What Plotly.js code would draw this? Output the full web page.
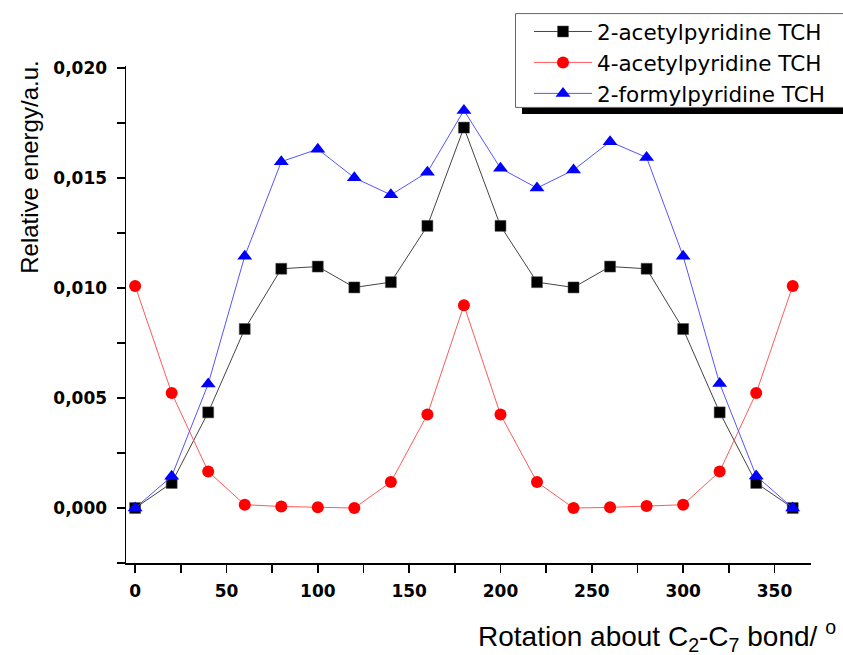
<!DOCTYPE html>
<html>
<head>
<meta charset="utf-8">
<script src="https://cdn.plot.ly/plotly-3.0.1.min.js"></script>
<style>html,body{margin:0;padding:0;background:#fff;}#chart{width:843px;height:655px;}</style>
</head>
<body>
<div id="chart"></div>
<script>
const angles = [0,20,40,60,80,100,120,140,160,180,200,220,240,260,280,300,320,340,360];
const acetyl2 = [0,0.00114,0.00435,0.00814,0.01088,0.01098,0.01003,0.01027,0.01283,0.0173,0.01283,0.01027,0.01003,0.01098,0.01088,0.00814,0.00435,0.00114,0];
const acetyl4 = [0.0101,0.00523,0.00166,0.00015,0.00007,0.00003,0.0000,0.00118,0.00425,0.00922,0.00425,0.00118,0.0000,0.00003,0.00009,0.00015,0.00166,0.00523,0.0101];
const formyl2 = [0,0.00144,0.00564,0.01145,0.01575,0.01632,0.01502,0.01424,0.01527,0.01808,0.01545,0.01455,0.01537,0.01666,0.01594,0.01145,0.00566,0.00146,0];
const seriesNames = ['2-acetylpyridine TCH','4-acetylpyridine TCH','2-formylpyridine TCH'];
const yTicks = [0,0.005,0.010,0.015,0.020];
const xTicks = [0,50,100,150,200,250,300,350];

const L = 126, R = 32, T = 65, B = 92, W = 843, H = 655;
const pw = W - L - R, ph = H - T - B;
const px = v => (v - L) / pw;
const py = v => (H - B - v) / ph;

const traces = [
  {x: angles, y: acetyl2, name: seriesNames[0], mode: 'lines+markers',
   line: {color: '#444', width: 1}, marker: {symbol: 'square', size: 11, color: '#000', line: {color: '#555', width: 0.5}}},
  {x: angles, y: acetyl4, name: seriesNames[1], mode: 'lines+markers',
   line: {color: '#ff5a5a', width: 1}, marker: {symbol: 'circle', size: 12, color: '#ff0000'}},
  {x: angles, y: formyl2, name: seriesNames[2], mode: 'lines+markers',
   line: {color: '#5555ff', width: 1}, marker: {symbol: 'triangle-up', size: 13, color: '#0000ff'}}
];

const fam = 'Liberation Sans, Arial, sans-serif';
const wide = 'DejaVu Sans, sans-serif';
const tickFont = {family: wide, size: 17, color: '#000', weight: 'bold'};
const layout = {
  width: W, height: H,
  margin: {l: L, r: R, t: T, b: B},
  paper_bgcolor: '#fff', plot_bgcolor: '#fff',
  separators: ',.',
  showlegend: true,
  xaxis: {
    range: [-5, 370], tickvals: xTicks, ticks: 'outside', ticklen: 8, tickwidth: 1.5, tickcolor: '#000',
    showline: true, linecolor: '#000', linewidth: 1.5, showgrid: false, zeroline: false,
    tickfont: tickFont, ticklabelstandoff: 4,
    minor: {dtick: 25, tick0: 0, ticks: 'outside', ticklen: 8, tickwidth: 1.5, tickcolor: '#000', showgrid: false}
  },
  yaxis: {
    range: [-0.0025, 0.0201], tickvals: yTicks, tickformat: '.3f', ticks: 'outside', ticklen: 8, tickwidth: 1.5, tickcolor: '#000',
    showline: true, linecolor: '#000', linewidth: 1.5, showgrid: false, zeroline: false,
    tickfont: tickFont, ticklabelstandoff: 6,
    minor: {dtick: 0.0025, tick0: 0, ticks: 'outside', ticklen: 8, tickwidth: 1.5, tickcolor: '#000', showgrid: false}
  },
  legend: {
    x: px(529), y: py(11), xanchor: 'left', yanchor: 'top',
    bgcolor: 'rgba(0,0,0,0)', borderwidth: 0,
    font: {family: wide, size: 21.5, color: '#000'},
    itemwidth: 58, tracegroupgap: 0
  },
  shapes: [
    {type: 'rect', xref: 'paper', yref: 'paper', x0: px(522), x1: px(850), y0: py(113), y1: py(104),
     fillcolor: '#000', line: {width: 0}, layer: 'above'},
    {type: 'rect', xref: 'paper', yref: 'paper', x0: px(515.5), x1: px(850), y0: py(106.5), y1: py(12.5),
     fillcolor: '#fff', line: {width: 1, color: '#666'}, layer: 'above'}
  ],
  annotations: [
    {xref: 'paper', yref: 'paper', x: px(30), y: py(166), xanchor: 'center', yanchor: 'middle',
     text: 'Relative energy/a.u.', textangle: -90, showarrow: false,
     font: {family: fam, size: 24, color: '#000'}},
    {xref: 'paper', yref: 'paper', x: px(838), y: py(636), xanchor: 'right', yanchor: 'middle',
     text: 'Rotation about C<sub>2</sub>-C<sub>7</sub> bond/ <sup>o</sup>', showarrow: false,
     font: {family: fam, size: 28, color: '#000'}}
  ]
};
Plotly.newPlot('chart', traces, layout, {displayModeBar: false, staticPlot: true});
</script>
</body>
</html>
